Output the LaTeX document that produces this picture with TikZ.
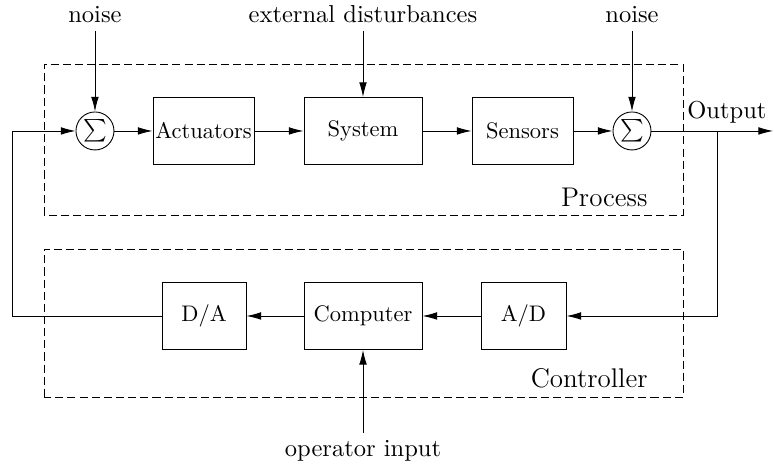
\documentclass[tikz,border=0pt]{standalone}
\usepackage{amsmath,amssymb}
\usepackage{tikz}
\usetikzlibrary{shapes,arrows,positioning,calc,arrows.meta}

\begin{document}
\begin{tikzpicture}[
    block/.style={draw, minimum height=1.047cm, inner sep=0pt},
    sumnode/.style={draw, circle, minimum size=0.594cm, inner sep=0pt},
    lbl/.style={font=\fontsize{10.9}{13}\selectfont},
    grouplbl/.style={font=\large, inner sep=0pt},
    groupbox/.style={dash pattern=on 3.6pt off 1.8pt},
    arr/.style={-{Latex[length=6.5pt,width=3.4pt]}}
]
    \useasboundingbox (0,0) rectangle (12.094,7.3125);

    % Process
    \draw[groupbox] (0.6875,3.953) rectangle (10.672,6.3125);
    \node[grouplbl, anchor=base east] (proclbl) at (10.125,4.09) {Process};

    \node[sumnode] (sumin) at (1.484,5.266) {$\sum$};
    \node[block, minimum width=1.578cm] (act) at (3.18,5.266) {Actuators};
    \node[block, minimum width=1.844cm] (sys) at (5.672,5.266) {System};
    \node[block, minimum width=1.578cm] (sens) at (8.164,5.266) {Sensors};
    \node[sumnode] (sumout) at (9.875,5.266) {$\sum$};

    \draw[arr] (sumin) -- (act);
    \draw[arr] (act) -- (sys);
    \draw[arr] (sys) -- (sens);
    \draw[arr] (sens) -- (sumout);

    % Inputs from above
    \node[lbl, anchor=south] (noisein) at (1.484,6.828) {noise};
    \node[lbl, anchor=south] (dist) at (5.672,6.828) {external disturbances};
    \node[lbl, anchor=south] (noiseout) at (9.875,6.828) {noise};
    \draw[arr] (noisein) -- (sumin);
    \draw[arr] (dist) -- (sys);
    \draw[arr] (noiseout) -- (sumout);

    % Output
    \coordinate (outend) at (12.08,5.266);
    \coordinate (branch) at (11.203,5.266);
    \draw[arr] (sumout) -- (outend);
    \node[lbl, anchor=base west, inner sep=0pt] (outlbl) at (10.734,5.453) {Output};

    % Controller
    \draw[groupbox] (0.6875,1.109) rectangle (10.672,3.422);
    \node[grouplbl, anchor=base east] (ctrllbl) at (10.125,1.25) {Controller};

    \node[block, minimum width=1.3125cm] (da) at (3.1875,2.375) {D/A};
    \node[block, minimum width=1.844cm] (comp) at (5.672,2.375) {Computer};
    \node[block, minimum width=1.328cm] (ad) at (8.18,2.375) {A/D};

    \draw[arr] (branch) |- (ad);
    \draw[arr] (ad) -- (comp);
    \draw[arr] (comp) -- (da);

    % Feedback to the first sum
    \coordinate (fbl) at (0.1875,5.266);
    \draw[arr] (da.west) -| (fbl) -- (sumin);

    % Operator
    \coordinate (opin) at (5.672,0.547);
    \node[lbl, below=3pt of opin, inner sep=0pt] (oplbl) {operator input};
    \draw[arr] (opin) -- (comp);
\end{tikzpicture}
\end{document}
